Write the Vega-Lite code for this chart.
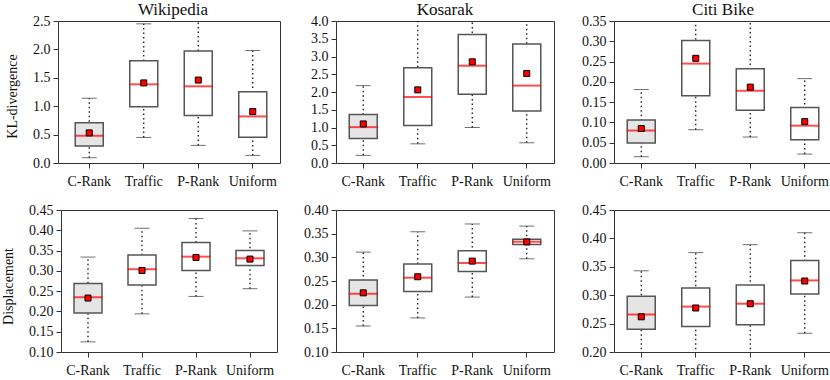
{
  "$schema": "https://vega.github.io/schema/vega-lite/v6.json",
  "padding": {"left": 0, "top": 0, "right": 0, "bottom": 0},
  "bounds": "flush",
  "columns": 3,
  "align": "all",
  "center": true,
  "spacing": {"row": 47, "column": 56},
  "data": {"values": [
    {"ds": "Wikipedia", "mt": "KL", "m": "C-Rank", "lo": 0.093, "q1": 0.30, "med": 0.48, "q3": 0.707, "hi": 1.14, "mean": 0.53},
    {"ds": "Wikipedia", "mt": "KL", "m": "Traffic", "lo": 0.45, "q1": 0.99, "med": 1.385, "q3": 1.80, "hi": 2.45, "mean": 1.41},
    {"ds": "Wikipedia", "mt": "KL", "m": "P-Rank", "lo": 0.31, "q1": 0.835, "med": 1.35, "q3": 1.97, "hi": 2.53, "mean": 1.46},
    {"ds": "Wikipedia", "mt": "KL", "m": "Uniform", "lo": 0.134, "q1": 0.455, "med": 0.82, "q3": 1.256, "hi": 1.98, "mean": 0.905},
    {"ds": "Kosarak", "mt": "KL", "m": "C-Rank", "lo": 0.215, "q1": 0.69, "med": 1.01, "q3": 1.365, "hi": 2.18, "mean": 1.10},
    {"ds": "Kosarak", "mt": "KL", "m": "Traffic", "lo": 0.54, "q1": 1.056, "med": 1.86, "q3": 2.68, "hi": 4.05, "mean": 2.06},
    {"ds": "Kosarak", "mt": "KL", "m": "P-Rank", "lo": 1.0, "q1": 1.94, "med": 2.74, "q3": 3.62, "hi": 4.05, "mean": 2.85},
    {"ds": "Kosarak", "mt": "KL", "m": "Uniform", "lo": 0.57, "q1": 1.467, "med": 2.18, "q3": 3.355, "hi": 4.05, "mean": 2.52},
    {"ds": "Citi Bike", "mt": "KL", "m": "C-Rank", "lo": 0.0155, "q1": 0.049, "med": 0.080, "q3": 0.106, "hi": 0.181, "mean": 0.085},
    {"ds": "Citi Bike", "mt": "KL", "m": "Traffic", "lo": 0.082, "q1": 0.166, "med": 0.245, "q3": 0.302, "hi": 0.354, "mean": 0.258},
    {"ds": "Citi Bike", "mt": "KL", "m": "P-Rank", "lo": 0.064, "q1": 0.130, "med": 0.178, "q3": 0.232, "hi": 0.354, "mean": 0.187},
    {"ds": "Citi Bike", "mt": "KL", "m": "Uniform", "lo": 0.022, "q1": 0.057, "med": 0.092, "q3": 0.137, "hi": 0.208, "mean": 0.102},
    {"ds": "Wikipedia", "mt": "D", "m": "C-Rank", "lo": 0.125, "q1": 0.196, "med": 0.235, "q3": 0.269, "hi": 0.334, "mean": 0.233},
    {"ds": "Wikipedia", "mt": "D", "m": "Traffic", "lo": 0.194, "q1": 0.265, "med": 0.304, "q3": 0.339, "hi": 0.405, "mean": 0.301},
    {"ds": "Wikipedia", "mt": "D", "m": "P-Rank", "lo": 0.237, "q1": 0.301, "med": 0.335, "q3": 0.370, "hi": 0.429, "mean": 0.333},
    {"ds": "Wikipedia", "mt": "D", "m": "Uniform", "lo": 0.256, "q1": 0.313, "med": 0.331, "q3": 0.350, "hi": 0.3985, "mean": 0.329},
    {"ds": "Kosarak", "mt": "D", "m": "C-Rank", "lo": 0.155, "q1": 0.198, "med": 0.223, "q3": 0.252, "hi": 0.311, "mean": 0.225},
    {"ds": "Kosarak", "mt": "D", "m": "Traffic", "lo": 0.172, "q1": 0.228, "med": 0.257, "q3": 0.286, "hi": 0.354, "mean": 0.259},
    {"ds": "Kosarak", "mt": "D", "m": "P-Rank", "lo": 0.216, "q1": 0.270, "med": 0.288, "q3": 0.314, "hi": 0.3705, "mean": 0.292},
    {"ds": "Kosarak", "mt": "D", "m": "Uniform", "lo": 0.297, "q1": 0.327, "med": 0.333, "q3": 0.338, "hi": 0.366, "mean": 0.3326},
    {"ds": "Citi Bike", "mt": "D", "m": "C-Rank", "lo": 0.197, "q1": 0.240, "med": 0.266, "q3": 0.298, "hi": 0.343, "mean": 0.262},
    {"ds": "Citi Bike", "mt": "D", "m": "Traffic", "lo": 0.197, "q1": 0.245, "med": 0.280, "q3": 0.3125, "hi": 0.375, "mean": 0.2775},
    {"ds": "Citi Bike", "mt": "D", "m": "P-Rank", "lo": 0.197, "q1": 0.248, "med": 0.285, "q3": 0.318, "hi": 0.389, "mean": 0.285},
    {"ds": "Citi Bike", "mt": "D", "m": "Uniform", "lo": 0.233, "q1": 0.302, "med": 0.326, "q3": 0.361, "hi": 0.410, "mean": 0.325}
  ]},
  "concat": [
    {"width": 222, "height": 142, "title": {"text": "Wikipedia", "dx": 4, "frame": "group"},
     "transform": [{"filter": "datum.ds == 'Wikipedia' && datum.mt == 'KL'"}],
     "encoding": {"x": {"field": "m", "type": "nominal", "sort": ["C-Rank", "Traffic", "P-Rank", "Uniform"], "title": null, "scale": {"paddingInner": 0, "paddingOuter": 0.0367, "align": 1}}},
     "layer": [
       {"mark": {"type": "rule", "strokeDash": [1.5, 3], "color": "#000", "strokeWidth": 1.2, "clip": true},
        "encoding": {"y": {"field": "lo", "type": "quantitative", "scale": {"domain": [0, 2.5], "nice": false, "zero": false}, "axis": {"values": [0, 0.5, 1, 1.5, 2, 2.5], "labelOverlap": false, "labelSeparation": -60, "format": ".1f", "title": "KL-divergence", "minExtent": 33, "maxExtent": 33, "titlePadding": 6, "titleY": 75}}, "y2": {"field": "hi"}}},
       {"mark": {"type": "tick", "size": 15, "thickness": 1, "color": "#333", "clip": true}, "encoding": {"y": {"field": "lo", "type": "quantitative", "axis": {"values": [0, 0.5, 1, 1.5, 2, 2.5], "labelOverlap": false, "labelSeparation": -60, "format": ".1f", "title": "KL-divergence", "minExtent": 33, "maxExtent": 33, "titlePadding": 6, "titleY": 75}}}},
       {"mark": {"type": "tick", "size": 15, "thickness": 1, "color": "#333", "clip": true}, "encoding": {"y": {"field": "hi", "type": "quantitative", "axis": {"values": [0, 0.5, 1, 1.5, 2, 2.5], "labelOverlap": false, "labelSeparation": -60, "format": ".1f", "title": "KL-divergence", "minExtent": 33, "maxExtent": 33, "titlePadding": 6, "titleY": 75}}}},
       {"mark": {"type": "bar", "size": 28, "stroke": "#555", "strokeWidth": 1.5}, "encoding": {"y": {"field": "q1", "type": "quantitative", "axis": {"values": [0, 0.5, 1, 1.5, 2, 2.5], "labelOverlap": false, "labelSeparation": -60, "format": ".1f", "title": "KL-divergence", "minExtent": 33, "maxExtent": 33, "titlePadding": 6, "titleY": 75}}, "y2": {"field": "q3"}, "fill": {"field": "m", "type": "nominal", "scale": {"domain": ["C-Rank", "Traffic", "P-Rank", "Uniform"], "range": ["#e5e5e5", "#ffffff", "#ffffff", "#ffffff"]}, "legend": null}}},
       {"mark": {"type": "tick", "size": 29, "thickness": 2, "color": "#ff0000"}, "encoding": {"y": {"field": "med", "type": "quantitative", "axis": {"values": [0, 0.5, 1, 1.5, 2, 2.5], "labelOverlap": false, "labelSeparation": -60, "format": ".1f", "title": "KL-divergence", "minExtent": 33, "maxExtent": 33, "titlePadding": 6, "titleY": 75}}}},
       {"mark": {"type": "square", "size": 36, "fill": "#ff0000", "stroke": "#000", "strokeWidth": 1, "opacity": 1, "filled": true}, "encoding": {"y": {"field": "mean", "type": "quantitative", "axis": {"values": [0, 0.5, 1, 1.5, 2, 2.5], "labelOverlap": false, "labelSeparation": -60, "format": ".1f", "title": "KL-divergence", "minExtent": 33, "maxExtent": 33, "titlePadding": 6, "titleY": 75}}}}
     ]},
    {"width": 218, "height": 142, "title": {"text": "Kosarak", "frame": "group"},
     "transform": [{"filter": "datum.ds == 'Kosarak' && datum.mt == 'KL'"}],
     "encoding": {"x": {"field": "m", "type": "nominal", "sort": ["C-Rank", "Traffic", "P-Rank", "Uniform"], "title": null, "scale": {"paddingInner": 0, "paddingOuter": 0}}},
     "layer": [
       {"mark": {"type": "rule", "strokeDash": [1.5, 3], "color": "#000", "strokeWidth": 1.2, "clip": true},
        "encoding": {"y": {"field": "lo", "type": "quantitative", "scale": {"domain": [0, 4], "nice": false, "zero": false}, "axis": {"values": [0, 0.5, 1, 1.5, 2, 2.5, 3, 3.5, 4], "labelOverlap": false, "labelSeparation": -60, "format": ".1f", "title": null}}, "y2": {"field": "hi"}}},
       {"mark": {"type": "tick", "size": 15, "thickness": 1, "color": "#333", "clip": true}, "encoding": {"y": {"field": "lo", "type": "quantitative", "axis": {"values": [0, 0.5, 1, 1.5, 2, 2.5, 3, 3.5, 4], "labelOverlap": false, "labelSeparation": -60, "format": ".1f", "title": null}}}},
       {"mark": {"type": "tick", "size": 15, "thickness": 1, "color": "#333", "clip": true}, "encoding": {"y": {"field": "hi", "type": "quantitative", "axis": {"values": [0, 0.5, 1, 1.5, 2, 2.5, 3, 3.5, 4], "labelOverlap": false, "labelSeparation": -60, "format": ".1f", "title": null}}}},
       {"mark": {"type": "bar", "size": 28, "stroke": "#555", "strokeWidth": 1.5}, "encoding": {"y": {"field": "q1", "type": "quantitative", "axis": {"values": [0, 0.5, 1, 1.5, 2, 2.5, 3, 3.5, 4], "labelOverlap": false, "labelSeparation": -60, "format": ".1f", "title": null}}, "y2": {"field": "q3"}, "fill": {"field": "m", "type": "nominal", "scale": {"domain": ["C-Rank", "Traffic", "P-Rank", "Uniform"], "range": ["#e5e5e5", "#ffffff", "#ffffff", "#ffffff"]}, "legend": null}}},
       {"mark": {"type": "tick", "size": 29, "thickness": 2, "color": "#ff0000"}, "encoding": {"y": {"field": "med", "type": "quantitative", "axis": {"values": [0, 0.5, 1, 1.5, 2, 2.5, 3, 3.5, 4], "labelOverlap": false, "labelSeparation": -60, "format": ".1f", "title": null}}}},
       {"mark": {"type": "square", "size": 36, "fill": "#ff0000", "stroke": "#000", "strokeWidth": 1, "opacity": 1, "filled": true}, "encoding": {"y": {"field": "mean", "type": "quantitative", "axis": {"values": [0, 0.5, 1, 1.5, 2, 2.5, 3, 3.5, 4], "labelOverlap": false, "labelSeparation": -60, "format": ".1f", "title": null}}}}
     ]},
    {"width": 218, "height": 142, "title": {"text": "Citi Bike", "frame": "group"},
     "transform": [{"filter": "datum.ds == 'Citi Bike' && datum.mt == 'KL'"}],
     "encoding": {"x": {"field": "m", "type": "nominal", "sort": ["C-Rank", "Traffic", "P-Rank", "Uniform"], "title": null, "scale": {"paddingInner": 0, "paddingOuter": 0}}},
     "layer": [
       {"mark": {"type": "rule", "strokeDash": [1.5, 3], "color": "#000", "strokeWidth": 1.2, "clip": true},
        "encoding": {"y": {"field": "lo", "type": "quantitative", "scale": {"domain": [0, 0.35], "nice": false, "zero": false}, "axis": {"values": [0, 0.05, 0.1, 0.15, 0.2, 0.25, 0.3, 0.35], "labelOverlap": false, "labelSeparation": -60, "format": ".2f", "title": null}}, "y2": {"field": "hi"}}},
       {"mark": {"type": "tick", "size": 15, "thickness": 1, "color": "#333", "clip": true}, "encoding": {"y": {"field": "lo", "type": "quantitative", "axis": {"values": [0, 0.05, 0.1, 0.15, 0.2, 0.25, 0.3, 0.35], "labelOverlap": false, "labelSeparation": -60, "format": ".2f", "title": null}}}},
       {"mark": {"type": "tick", "size": 15, "thickness": 1, "color": "#333", "clip": true}, "encoding": {"y": {"field": "hi", "type": "quantitative", "axis": {"values": [0, 0.05, 0.1, 0.15, 0.2, 0.25, 0.3, 0.35], "labelOverlap": false, "labelSeparation": -60, "format": ".2f", "title": null}}}},
       {"mark": {"type": "bar", "size": 28, "stroke": "#555", "strokeWidth": 1.5}, "encoding": {"y": {"field": "q1", "type": "quantitative", "axis": {"values": [0, 0.05, 0.1, 0.15, 0.2, 0.25, 0.3, 0.35], "labelOverlap": false, "labelSeparation": -60, "format": ".2f", "title": null}}, "y2": {"field": "q3"}, "fill": {"field": "m", "type": "nominal", "scale": {"domain": ["C-Rank", "Traffic", "P-Rank", "Uniform"], "range": ["#e5e5e5", "#ffffff", "#ffffff", "#ffffff"]}, "legend": null}}},
       {"mark": {"type": "tick", "size": 29, "thickness": 2, "color": "#ff0000"}, "encoding": {"y": {"field": "med", "type": "quantitative", "axis": {"values": [0, 0.05, 0.1, 0.15, 0.2, 0.25, 0.3, 0.35], "labelOverlap": false, "labelSeparation": -60, "format": ".2f", "title": null}}}},
       {"mark": {"type": "square", "size": 36, "fill": "#ff0000", "stroke": "#000", "strokeWidth": 1, "opacity": 1, "filled": true}, "encoding": {"y": {"field": "mean", "type": "quantitative", "axis": {"values": [0, 0.05, 0.1, 0.15, 0.2, 0.25, 0.3, 0.35], "labelOverlap": false, "labelSeparation": -60, "format": ".2f", "title": null}}}}
     ]},
    {"width": 216, "height": 142,
     "transform": [{"filter": "datum.ds == 'Wikipedia' && datum.mt == 'D'"}],
     "encoding": {"x": {"field": "m", "type": "nominal", "sort": ["C-Rank", "Traffic", "P-Rank", "Uniform"], "title": null, "scale": {"paddingInner": 0, "paddingOuter": 0}}},
     "layer": [
       {"mark": {"type": "rule", "strokeDash": [1.5, 3], "color": "#000", "strokeWidth": 1.2, "clip": true},
        "encoding": {"y": {"field": "lo", "type": "quantitative", "scale": {"domain": [0.1, 0.45], "nice": false, "zero": false}, "axis": {"values": [0.1, 0.15, 0.2, 0.25, 0.3, 0.35, 0.4, 0.45], "labelOverlap": false, "labelSeparation": -60, "format": ".2f", "title": "Displacement", "minExtent": 40, "maxExtent": 40, "titlePadding": 6, "titleY": 76}}, "y2": {"field": "hi"}}},
       {"mark": {"type": "tick", "size": 15, "thickness": 1, "color": "#333", "clip": true}, "encoding": {"y": {"field": "lo", "type": "quantitative", "axis": {"values": [0.1, 0.15, 0.2, 0.25, 0.3, 0.35, 0.4, 0.45], "labelOverlap": false, "labelSeparation": -60, "format": ".2f", "title": "Displacement", "minExtent": 40, "maxExtent": 40, "titlePadding": 6, "titleY": 76}}}},
       {"mark": {"type": "tick", "size": 15, "thickness": 1, "color": "#333", "clip": true}, "encoding": {"y": {"field": "hi", "type": "quantitative", "axis": {"values": [0.1, 0.15, 0.2, 0.25, 0.3, 0.35, 0.4, 0.45], "labelOverlap": false, "labelSeparation": -60, "format": ".2f", "title": "Displacement", "minExtent": 40, "maxExtent": 40, "titlePadding": 6, "titleY": 76}}}},
       {"mark": {"type": "bar", "size": 28, "stroke": "#555", "strokeWidth": 1.5}, "encoding": {"y": {"field": "q1", "type": "quantitative", "axis": {"values": [0.1, 0.15, 0.2, 0.25, 0.3, 0.35, 0.4, 0.45], "labelOverlap": false, "labelSeparation": -60, "format": ".2f", "title": "Displacement", "minExtent": 40, "maxExtent": 40, "titlePadding": 6, "titleY": 76}}, "y2": {"field": "q3"}, "fill": {"field": "m", "type": "nominal", "scale": {"domain": ["C-Rank", "Traffic", "P-Rank", "Uniform"], "range": ["#e5e5e5", "#ffffff", "#ffffff", "#ffffff"]}, "legend": null}}},
       {"mark": {"type": "tick", "size": 29, "thickness": 2, "color": "#ff0000"}, "encoding": {"y": {"field": "med", "type": "quantitative", "axis": {"values": [0.1, 0.15, 0.2, 0.25, 0.3, 0.35, 0.4, 0.45], "labelOverlap": false, "labelSeparation": -60, "format": ".2f", "title": "Displacement", "minExtent": 40, "maxExtent": 40, "titlePadding": 6, "titleY": 76}}}},
       {"mark": {"type": "square", "size": 36, "fill": "#ff0000", "stroke": "#000", "strokeWidth": 1, "opacity": 1, "filled": true}, "encoding": {"y": {"field": "mean", "type": "quantitative", "axis": {"values": [0.1, 0.15, 0.2, 0.25, 0.3, 0.35, 0.4, 0.45], "labelOverlap": false, "labelSeparation": -60, "format": ".2f", "title": "Displacement", "minExtent": 40, "maxExtent": 40, "titlePadding": 6, "titleY": 76}}}}
     ]},
    {"width": 218, "height": 142,
     "transform": [{"filter": "datum.ds == 'Kosarak' && datum.mt == 'D'"}],
     "encoding": {"x": {"field": "m", "type": "nominal", "sort": ["C-Rank", "Traffic", "P-Rank", "Uniform"], "title": null, "scale": {"paddingInner": 0, "paddingOuter": 0}}},
     "layer": [
       {"mark": {"type": "rule", "strokeDash": [1.5, 3], "color": "#000", "strokeWidth": 1.2, "clip": true},
        "encoding": {"y": {"field": "lo", "type": "quantitative", "scale": {"domain": [0.1, 0.4], "nice": false, "zero": false}, "axis": {"values": [0.1, 0.15, 0.2, 0.25, 0.3, 0.35, 0.4], "labelOverlap": false, "labelSeparation": -60, "format": ".2f", "title": null}}, "y2": {"field": "hi"}}},
       {"mark": {"type": "tick", "size": 15, "thickness": 1, "color": "#333", "clip": true}, "encoding": {"y": {"field": "lo", "type": "quantitative", "axis": {"values": [0.1, 0.15, 0.2, 0.25, 0.3, 0.35, 0.4], "labelOverlap": false, "labelSeparation": -60, "format": ".2f", "title": null}}}},
       {"mark": {"type": "tick", "size": 15, "thickness": 1, "color": "#333", "clip": true}, "encoding": {"y": {"field": "hi", "type": "quantitative", "axis": {"values": [0.1, 0.15, 0.2, 0.25, 0.3, 0.35, 0.4], "labelOverlap": false, "labelSeparation": -60, "format": ".2f", "title": null}}}},
       {"mark": {"type": "bar", "size": 28, "stroke": "#555", "strokeWidth": 1.5}, "encoding": {"y": {"field": "q1", "type": "quantitative", "axis": {"values": [0.1, 0.15, 0.2, 0.25, 0.3, 0.35, 0.4], "labelOverlap": false, "labelSeparation": -60, "format": ".2f", "title": null}}, "y2": {"field": "q3"}, "fill": {"field": "m", "type": "nominal", "scale": {"domain": ["C-Rank", "Traffic", "P-Rank", "Uniform"], "range": ["#e5e5e5", "#ffffff", "#ffffff", "#ffffff"]}, "legend": null}}},
       {"mark": {"type": "tick", "size": 29, "thickness": 2, "color": "#ff0000"}, "encoding": {"y": {"field": "med", "type": "quantitative", "axis": {"values": [0.1, 0.15, 0.2, 0.25, 0.3, 0.35, 0.4], "labelOverlap": false, "labelSeparation": -60, "format": ".2f", "title": null}}}},
       {"mark": {"type": "square", "size": 36, "fill": "#ff0000", "stroke": "#000", "strokeWidth": 1, "opacity": 1, "filled": true}, "encoding": {"y": {"field": "mean", "type": "quantitative", "axis": {"values": [0.1, 0.15, 0.2, 0.25, 0.3, 0.35, 0.4], "labelOverlap": false, "labelSeparation": -60, "format": ".2f", "title": null}}}}
     ]},
    {"width": 218, "height": 142,
     "transform": [{"filter": "datum.ds == 'Citi Bike' && datum.mt == 'D'"}],
     "encoding": {"x": {"field": "m", "type": "nominal", "sort": ["C-Rank", "Traffic", "P-Rank", "Uniform"], "title": null, "scale": {"paddingInner": 0, "paddingOuter": 0}}},
     "layer": [
       {"mark": {"type": "rule", "strokeDash": [1.5, 3], "color": "#000", "strokeWidth": 1.2, "clip": true},
        "encoding": {"y": {"field": "lo", "type": "quantitative", "scale": {"domain": [0.2, 0.45], "nice": false, "zero": false}, "axis": {"values": [0.2, 0.25, 0.3, 0.35, 0.4, 0.45], "labelOverlap": false, "labelSeparation": -60, "format": ".2f", "title": null}}, "y2": {"field": "hi"}}},
       {"mark": {"type": "tick", "size": 15, "thickness": 1, "color": "#333", "clip": true}, "encoding": {"y": {"field": "lo", "type": "quantitative", "axis": {"values": [0.2, 0.25, 0.3, 0.35, 0.4, 0.45], "labelOverlap": false, "labelSeparation": -60, "format": ".2f", "title": null}}}},
       {"mark": {"type": "tick", "size": 15, "thickness": 1, "color": "#333", "clip": true}, "encoding": {"y": {"field": "hi", "type": "quantitative", "axis": {"values": [0.2, 0.25, 0.3, 0.35, 0.4, 0.45], "labelOverlap": false, "labelSeparation": -60, "format": ".2f", "title": null}}}},
       {"mark": {"type": "bar", "size": 28, "stroke": "#555", "strokeWidth": 1.5}, "encoding": {"y": {"field": "q1", "type": "quantitative", "axis": {"values": [0.2, 0.25, 0.3, 0.35, 0.4, 0.45], "labelOverlap": false, "labelSeparation": -60, "format": ".2f", "title": null}}, "y2": {"field": "q3"}, "fill": {"field": "m", "type": "nominal", "scale": {"domain": ["C-Rank", "Traffic", "P-Rank", "Uniform"], "range": ["#e5e5e5", "#ffffff", "#ffffff", "#ffffff"]}, "legend": null}}},
       {"mark": {"type": "tick", "size": 29, "thickness": 2, "color": "#ff0000"}, "encoding": {"y": {"field": "med", "type": "quantitative", "axis": {"values": [0.2, 0.25, 0.3, 0.35, 0.4, 0.45], "labelOverlap": false, "labelSeparation": -60, "format": ".2f", "title": null}}}},
       {"mark": {"type": "square", "size": 36, "fill": "#ff0000", "stroke": "#000", "strokeWidth": 1, "opacity": 1, "filled": true}, "encoding": {"y": {"field": "mean", "type": "quantitative", "axis": {"values": [0.2, 0.25, 0.3, 0.35, 0.4, 0.45], "labelOverlap": false, "labelSeparation": -60, "format": ".2f", "title": null}}}}
     ]}
  ],
  "config": {
    "font": "Liberation Serif",
    "view": {"stroke": "#333", "strokeWidth": 1},
    "axis": {"domain": false, "grid": false, "tickColor": "#333", "tickSize": 5, "labelFont": "Liberation Serif", "labelFontSize": 14, "labelColor": "#111", "labelOverlap": false, "titleFont": "Liberation Serif", "titleFontSize": 14, "titleFontWeight": "normal", "titleColor": "#111"},
    "axisX": {"labelAngle": 0, "labelPadding": 6},
    "axisY": {"labelPadding": 3},
    "title": {"font": "Liberation Serif", "fontSize": 17, "fontWeight": "normal", "color": "#111", "offset": -5, "baseline": "alphabetic", "frame": "group"}
  }
}
